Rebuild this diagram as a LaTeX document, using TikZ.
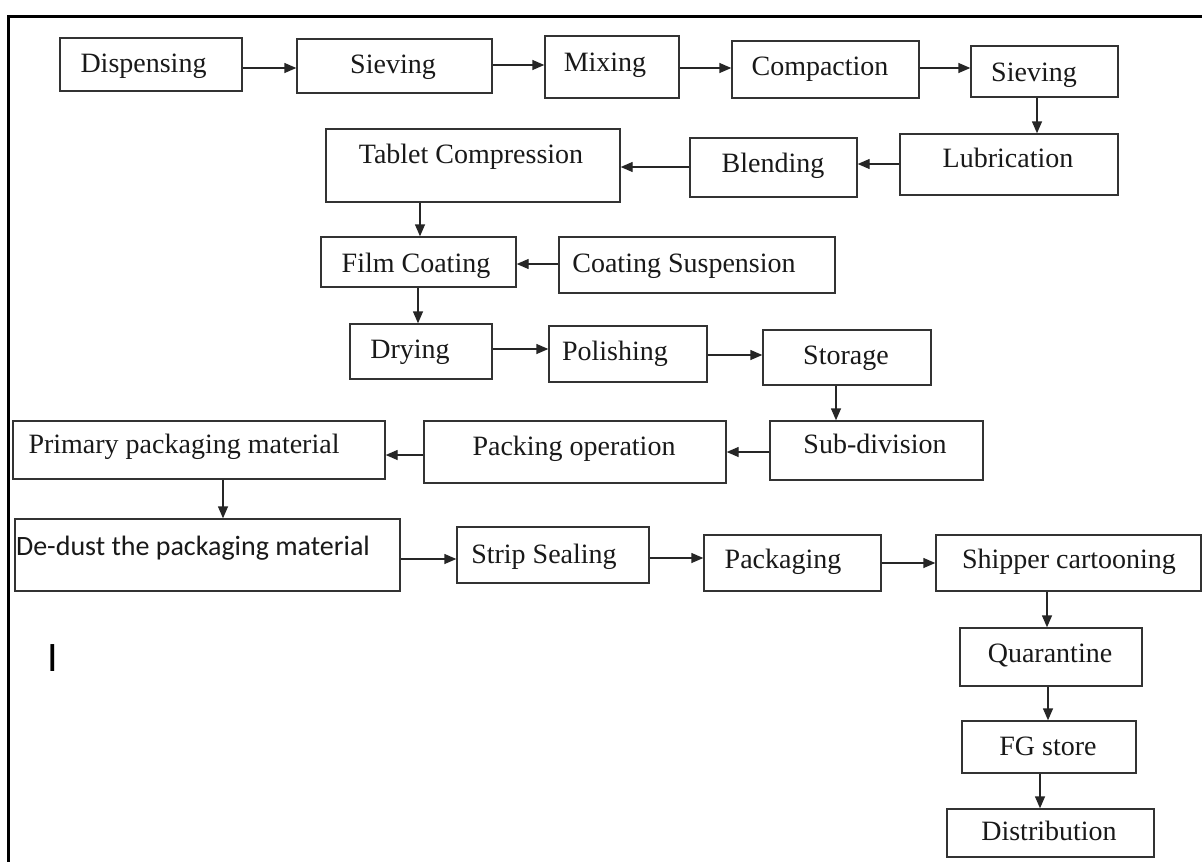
\documentclass[tikz,border=0pt]{standalone}
\usepackage{fontspec}
\setmainfont{Liberation Serif}
\newfontfamily\calib{Carlito}
\usetikzlibrary{arrows.meta}
\tikzset{
  pbox/.style={draw=black!80, line width=1.4pt, rectangle, inner sep=0pt},
  lbl/.style={anchor=base, inner sep=0pt, font=\fontsize{28}{32}\selectfont, text=black!90},
  arr/.style={draw=black!85, line width=1.4pt, -{Triangle[length=12pt,width=10pt]}},
  frame/.style={line width=3pt, draw=black}
}
\newcommand\pb[8]{\node[pbox,minimum width=#4pt,minimum height=#5pt] (#1) at (#2,#3) {};
  \node[lbl] (#1t) at (#6,#7) {#8};}
\begin{document}
\begin{tikzpicture}[x=1pt,y=-1pt]
\useasboundingbox (0,0) rectangle (1202,862);
\fill[white] (0,0) rectangle (1202,862);
\coordinate (fa) at (8,862);
\coordinate (fb) at (8,16);
\coordinate (fc) at (1202,16);
\draw[frame] (fa) -- (fb) -- (fc);

\pb{disp}{151}{64.5}{182}{53}{143.5}{72}{Dispensing}
\pb{sieva}{394.5}{66}{195}{54}{393}{73}{Sieving}
\pb{mix}{612}{67}{134}{62}{605}{71}{Mixing}
\pb{comp}{825.5}{69.5}{187}{57}{820}{75}{Compaction}
\pb{sievb}{1044.5}{71.5}{147}{51}{1034}{81}{Sieving}
\pb{lub}{1009}{164.5}{218}{61}{1008}{167}{Lubrication}
\pb{blend}{773.5}{167.5}{167}{59}{773}{172}{Blending}
\pb{tab}{473}{165.5}{294}{73}{471}{163}{Tablet Compression}
\pb{film}{418.5}{262}{195}{50}{416}{272}{Film Coating}
\pb{coat}{697}{265}{276}{56}{684}{272}{Coating Suspension}
\pb{dry}{421}{351.5}{142}{55}{410}{358}{Drying}
\pb{pol}{628}{354}{158}{56}{615}{360}{Polishing}
\pb{stor}{847}{357.5}{168}{55}{846}{364}{Storage}
\pb{sub}{876.5}{450.5}{213}{59}{875}{453}{Sub-division}
\pb{pack}{575}{452}{302}{62}{574}{455}{Packing operation}
\pb{prim}{199}{450}{372}{58}{184}{453}{Primary packaging material}
\pb{dedust}{207.5}{555}{385}{72}{193}{555}{\calib De-dust the packaging material}
\pb{strip}{553}{555}{192}{56}{544}{563}{Strip Sealing}
\pb{packg}{792.5}{563}{177}{56}{783}{568}{Packaging}
\pb{ship}{1068.5}{563}{265}{56}{1069}{568}{Shipper cartooning}
\pb{quar}{1051}{657}{182}{58}{1050}{662}{Quarantine}
\pb{fg}{1049}{747}{174}{52}{1048}{755}{FG store}
\pb{dist}{1050.5}{833}{207}{48}{1049}{840}{Distribution}

\node[inner sep=0pt, font=\calib\fontsize{42}{42}\selectfont] (mark) at (52.5,658.5) {I};

\draw[arr] (disp.east |- 0,68) -- (sieva.west |- 0,68);
\draw[arr] (sieva.east |- 0,65) -- (mix.west |- 0,65);
\draw[arr] (mix.east |- 0,68) -- (comp.west |- 0,68);
\draw[arr] (comp.east |- 0,68) -- (sievb.west |- 0,68);
\draw[arr] (sievb.south -| 1037,0) -- (lub.north -| 1037,0);
\draw[arr] (lub.west |- 0,164) -- (blend.east |- 0,164);
\draw[arr] (blend.west |- 0,167) -- (tab.east |- 0,167);
\draw[arr] (tab.south -| 420,0) -- (film.north -| 420,0);
\draw[arr] (coat.west |- 0,264) -- (film.east |- 0,264);
\draw[arr] (film.south -| 418,0) -- (dry.north -| 418,0);
\draw[arr] (dry.east |- 0,349) -- (pol.west |- 0,349);
\draw[arr] (pol.east |- 0,355) -- (stor.west |- 0,355);
\draw[arr] (stor.south -| 836,0) -- (sub.north -| 836,0);
\draw[arr] (sub.west |- 0,452) -- (pack.east |- 0,452);
\draw[arr] (pack.west |- 0,455) -- (prim.east |- 0,455);
\draw[arr] (prim.south -| 223,0) -- (dedust.north -| 223,0);
\draw[arr] (dedust.east |- 0,559) -- (strip.west |- 0,559);
\draw[arr] (strip.east |- 0,558) -- (packg.west |- 0,558);
\draw[arr] (packg.east |- 0,563) -- (ship.west |- 0,563);
\draw[arr] (ship.south -| 1047,0) -- (quar.north -| 1047,0);
\draw[arr] (quar.south -| 1048,0) -- (fg.north -| 1048,0);
\draw[arr] (fg.south -| 1040,0) -- (dist.north -| 1040,0);
\end{tikzpicture}
\end{document}
